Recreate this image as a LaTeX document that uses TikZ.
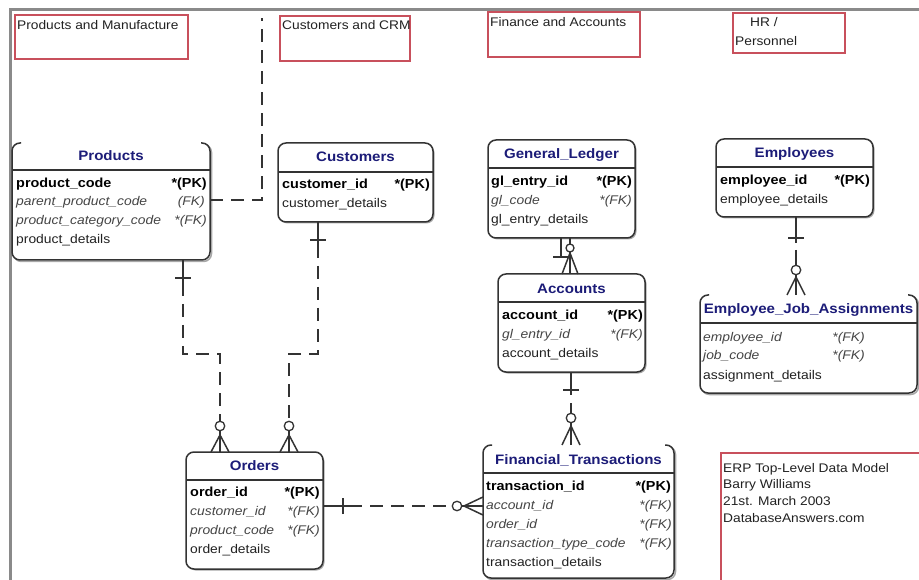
\documentclass[tikz,border=0pt]{standalone}
\usepackage{fontspec}
\setmainfont{Liberation Sans}[FakeStretch=1.1]
\usetikzlibrary{shadows}
\definecolor{boxc}{HTML}{333333}
\definecolor{navyc}{HTML}{1C1C78}
\definecolor{redc}{HTML}{C8505C}
\definecolor{fkc}{HTML}{454545}
\definecolor{txtc}{HTML}{222222}
\definecolor{shc}{HTML}{A8A8A8}
\definecolor{framec}{HTML}{8A8A8A}
\newcommand\hdrfont{\fontsize{13.7}{15}\selectfont\bfseries}
\newcommand\rowfont{\fontsize{12.6}{14}\selectfont}
\newcommand\pkfont{\fontsize{13.1}{14}\selectfont\bfseries}
\newcommand\lblfont{\fontsize{12.5}{16.7}\selectfont}
\newcommand\openbox[1]{%
  \draw[shc, line width=1.5pt, rounded corners=8pt, transform canvas={shift={(1.5pt,-1.5pt)}}]
    ([xshift=9pt]#1.north west) -- (#1.north west) -- (#1.south west) -- (#1.south east) -- (#1.north east) -- ([xshift=-9pt]#1.north east);
  \fill[white, rounded corners=8pt] (#1.north west) rectangle (#1.south east);
  \draw[boxc, line width=1.5pt, rounded corners=8pt]
    ([xshift=9pt]#1.north west) -- (#1.north west) -- (#1.south west) -- (#1.south east) -- (#1.north east) -- ([xshift=-9pt]#1.north east);}
\begin{document}
\begin{tikzpicture}[x=1pt,y=-1pt,
  ent/.style={draw=boxc, line width=1.5pt, rounded corners=8pt, fill=white, inner sep=0pt, outer sep=0pt, anchor=north west,
    drop shadow={shadow xshift=1.5pt, shadow yshift=-1.5pt, fill=shc, opacity=1}},
  entopen/.style={inner sep=0pt, outer sep=0pt, anchor=north west},
  sep/.style={draw=boxc, line width=1.4pt},
  hdr/.style={font=\hdrfont, text=navyc, inner sep=0pt},
  row/.style={anchor=west, inner sep=0pt, font=\rowfont, text=txtc},
  pkrow/.style={row, font=\pkfont, text=black},
  fkrow/.style={row, font=\rowfont\itshape, text=fkc},
  pkkey/.style={pkrow, anchor=east},
  fkkey/.style={fkrow, anchor=east},
  area/.style={draw=redc, line width=1.3pt, inner sep=0pt, outer sep=0pt, anchor=north west},
  lbl/.style={font=\lblfont, text=txtc, inner sep=0pt, anchor=west},
  rel/.style={draw=boxc, line width=1.6pt, dash pattern=on 13pt off 8pt},
  lnk/.style={draw=boxc, line width=1.5pt},
  zero/.style={circle, draw=boxc, line width=1.3pt, fill=white, minimum size=9.5pt, inner sep=0pt, outer sep=0pt}
]
\useasboundingbox (0,0) rectangle (919,580);
\fill[white] (0,0) rectangle (919,580);
\draw[framec, line width=3pt] (10,590) -- (10,9.5) -- (930,9.5);

% subject areas
\node[area, minimum width=173pt, minimum height=44pt] (a1) at (15,15) {};
\node[lbl] (a1t) at (17,25) {Products and Manufacture};
\node[area, minimum width=130pt, minimum height=45pt] (a2) at (280,16) {};
\node[lbl] (a2t) at (282,25) {Customers and CRM};
\node[area, minimum width=152pt, minimum height=45pt] (a3) at (488,12) {};
\node[lbl] (a3t) at (490,22) {Finance and Accounts};
\node[area, minimum width=112pt, minimum height=40pt] (a4) at (733,13) {};
\node[lbl] (a4t) at (750,22) {HR /};
\node[lbl] (a4u) at (735,41) {Personnel};
\node[area, minimum width=205pt, minimum height=135pt] (a5) at (721,453) {};
\node[lbl, anchor=north west, align=left] (a5t) at (723,463) {ERP Top-Level Data Model\\Barry Williams\\21st. March 2003\\DatabaseAnswers.com};

% Products
\node[entopen, minimum width=198pt, minimum height=117pt] (prod) at (12,143) {};
\openbox{prod}
\draw[sep] (prod.west |- 0,170) -- (prod.east |- 0,170);
\node[hdr] (prodh) at (prod.north |- 0,156) {Products};
\node[pkrow] (prod1) at (16,184) {product\_code};
\node[pkkey] (prod1k) at (207,184) {*(PK)};
\node[fkrow] (prod2) at (16,202) {parent\_product\_code};
\node[fkkey] (prod2k) at (205,202) {(FK)};
\node[fkrow] (prod3) at (16,221) {product\_category\_code};
\node[fkkey] (prod3k) at (207,221) {*(FK)};
\node[row] (prod4) at (16,240) {product\_details};

% Customers
\node[ent, minimum width=155pt, minimum height=79pt] (cust) at (278,143) {};
\draw[sep] (cust.west |- 0,172) -- (cust.east |- 0,172);
\node[hdr] (custh) at (cust.north |- 0,157) {Customers};
\node[pkrow] (cust1) at (282,185) {customer\_id};
\node[pkkey] (cust1k) at (430,185) {*(PK)};
\node[row] (cust2) at (282,204) {customer\_details};

% General_Ledger
\node[ent, minimum width=147pt, minimum height=98pt] (gl) at (488,140) {};
\draw[sep] (gl.west |- 0,168) -- (gl.east |- 0,168);
\node[hdr] (glh) at (gl.north |- 0,155) {General\_Ledger};
\node[pkrow] (gl1) at (491,182) {gl\_entry\_id};
\node[pkkey] (gl1k) at (632,182) {*(PK)};
\node[fkrow] (gl2) at (491,201) {gl\_code};
\node[fkkey] (gl2k) at (632,201) {*(FK)};
\node[row] (gl3) at (491,220) {gl\_entry\_details};

% Employees
\node[ent, minimum width=157pt, minimum height=78pt] (emp) at (716,139) {};
\draw[sep] (emp.west |- 0,167) -- (emp.east |- 0,167);
\node[hdr] (emph) at (emp.north |- 0,154) {Employees};
\node[pkrow] (emp1) at (720,181) {employee\_id};
\node[pkkey] (emp1k) at (870,181) {*(PK)};
\node[row] (emp2) at (720,200) {employee\_details};

% Accounts
\node[ent, minimum width=147pt, minimum height=98pt] (acc) at (498,274) {};
\draw[sep] (acc.west |- 0,302) -- (acc.east |- 0,302);
\node[hdr] (acch) at (acc.north |- 0,289) {Accounts};
\node[pkrow] (acc1) at (502,316) {account\_id};
\node[pkkey] (acc1k) at (643,316) {*(PK)};
\node[fkrow] (acc2) at (502,335) {gl\_entry\_id};
\node[fkkey] (acc2k) at (643,335) {*(FK)};
\node[row] (acc3) at (502,354) {account\_details};

% Employee_Job_Assignments
\node[entopen, minimum width=217pt, minimum height=98pt] (eja) at (700,295) {};
\openbox{eja}
\draw[sep] (eja.west |- 0,323) -- (eja.east |- 0,323);
\node[hdr] (ejah) at (eja.north |- 0,310) {Employee\_Job\_Assignments};
\node[fkrow] (eja1) at (703,338) {employee\_id};
\node[fkkey] (eja1k) at (865,338) {*(FK)};
\node[fkrow] (eja2) at (703,356) {job\_code};
\node[fkkey] (eja2k) at (865,356) {*(FK)};
\node[row] (eja3) at (703,376) {assignment\_details};

% Orders
\node[ent, minimum width=137pt, minimum height=117pt] (ord) at (186,452) {};
\draw[sep] (ord.west |- 0,480) -- (ord.east |- 0,480);
\node[hdr] (ordh) at (ord.north |- 0,466) {Orders};
\node[pkrow] (ord1) at (190,493) {order\_id};
\node[pkkey] (ord1k) at (320,493) {*(PK)};
\node[fkrow] (ord2) at (190,512) {customer\_id};
\node[fkkey] (ord2k) at (320,512) {*(FK)};
\node[fkrow] (ord3) at (190,531) {product\_code};
\node[fkkey] (ord3k) at (320,531) {*(FK)};
\node[row] (ord4) at (190,550) {order\_details};

% Financial_Transactions
\node[entopen, minimum width=191pt, minimum height=133pt] (ft) at (483,445) {};
\openbox{ft}
\draw[sep] (ft.west |- 0,473) -- (ft.east |- 0,473);
\node[hdr] (fth) at (ft.north |- 0,460) {Financial\_Transactions};
\node[pkrow] (ft1) at (486,487) {transaction\_id};
\node[pkkey] (ft1k) at (671,487) {*(PK)};
\node[fkrow] (ft2) at (486,506) {account\_id};
\node[fkkey] (ft2k) at (672,506) {*(FK)};
\node[fkrow] (ft3) at (486,525) {order\_id};
\node[fkkey] (ft3k) at (672,525) {*(FK)};
\node[fkrow] (ft4) at (486,544) {transaction\_type\_code};
\node[fkkey] (ft4k) at (672,544) {*(FK)};
\node[row] (ft5) at (486,563) {transaction\_details};

% R1 Products -> Orders
\coordinate (r1bar) at (183,278);
\coordinate (r1a) at (183,283);
\coordinate (r1m) at (183,354);
\coordinate (r1k) at (220,435);
\node[zero] (r1c) at (220,426) {};
\draw[lnk] (prod.south -| r1a) -- (r1a);
\draw[lnk] ([xshift=-8pt]r1bar) -- ([xshift=8pt]r1bar);
\draw[rel] (r1a) -- (r1m) -| (r1c.north);
\draw[lnk] (r1c.south) -- (ord.north -| r1c);
\draw[lnk] ([xshift=-9pt]ord.north -| r1k) -- (r1k) -- ([xshift=9pt]ord.north -| r1k);

% R2 Customers -> Orders
\coordinate (r2bar) at (318,240);
\coordinate (r2a) at (318,245);
\coordinate (r2m) at (318,354);
\coordinate (r2k) at (289,435);
\node[zero] (r2c) at (289,426) {};
\draw[lnk] (cust.south -| r2a) -- (r2a);
\draw[lnk] ([xshift=-8pt]r2bar) -- ([xshift=8pt]r2bar);
\draw[rel] (r2a) -- (r2m) -| (r2c.north);
\draw[lnk] (r2c.south) -- (ord.north -| r2c);
\draw[lnk] ([xshift=-9pt]ord.north -| r2k) -- (r2k) -- ([xshift=9pt]ord.north -| r2k);

% R3 Orders -> Financial_Transactions
\coordinate (r3bar) at (343,506);
\coordinate (r3a) at (349,506);
\coordinate (r3k) at (464,506);
\node[zero] (r3c) at (457,506) {};
\draw[lnk] (ord.east |- r3a) -- (r3a);
\draw[lnk] ([yshift=-8pt]r3bar) -- ([yshift=8pt]r3bar);
\draw[rel] (r3a) -- (r3c.west);
\draw[lnk] (r3c.east) -- (ft.west |- r3c);
\draw[lnk] ([yshift=-9pt]ft.west |- r3k) -- (r3k) -- ([yshift=9pt]ft.west |- r3k);

% R4 General_Ledger -> Accounts
\coordinate (r4bar) at (561,257);
\coordinate (r4k) at (570,253);
\node[zero, minimum size=8pt] (r4c) at (570,248) {};
\draw[lnk] (gl.south -| r4bar) -- (r4bar);
\draw[lnk] ([xshift=-8pt]r4bar) -- ([xshift=9pt]r4bar);
\draw[lnk] (gl.south -| r4c) -- (r4c.north);
\draw[lnk] (r4c.south) -- (acc.north -| r4c);
\draw[lnk] ([xshift=-8pt]acc.north -| r4k) -- (r4k) -- ([xshift=8pt]acc.north -| r4k);

% R5 Accounts -> Financial_Transactions
\coordinate (r5bar) at (571,390);
\coordinate (r5a) at (571,395);
\coordinate (r5b) at (571,403);
\coordinate (r5k) at (571,426);
\node[zero] (r5c) at (571,418) {};
\draw[lnk] (acc.south -| r5a) -- (r5a);
\draw[lnk] ([xshift=-8pt]r5bar) -- ([xshift=8pt]r5bar);
\draw[lnk] (r5b) -- (r5c.north);
\draw[lnk] (r5c.south) -- (ft.north -| r5c);
\draw[lnk] ([xshift=-9pt]ft.north -| r5k) -- (r5k) -- ([xshift=9pt]ft.north -| r5k);

% R6 Employees -> Employee_Job_Assignments
\coordinate (r6bar) at (796,238);
\coordinate (r6a) at (796,243);
\coordinate (r6b) at (796,250);
\coordinate (r6k) at (796,277);
\node[zero] (r6c) at (796,270) {};
\draw[lnk] (emp.south -| r6a) -- (r6a);
\draw[lnk] ([xshift=-8pt]r6bar) -- ([xshift=8pt]r6bar);
\draw[lnk] (r6b) -- (r6c.north);
\draw[lnk] (r6c.south) -- (eja.north -| r6c);
\draw[lnk] ([xshift=-9pt]eja.north -| r6k) -- (r6k) -- ([xshift=9pt]eja.north -| r6k);

% R7 Products -> area divider
\coordinate (r7top) at (262,18);
\draw[rel] (prod.east |- 0,200) -| (r7top);
\end{tikzpicture}
\end{document}
